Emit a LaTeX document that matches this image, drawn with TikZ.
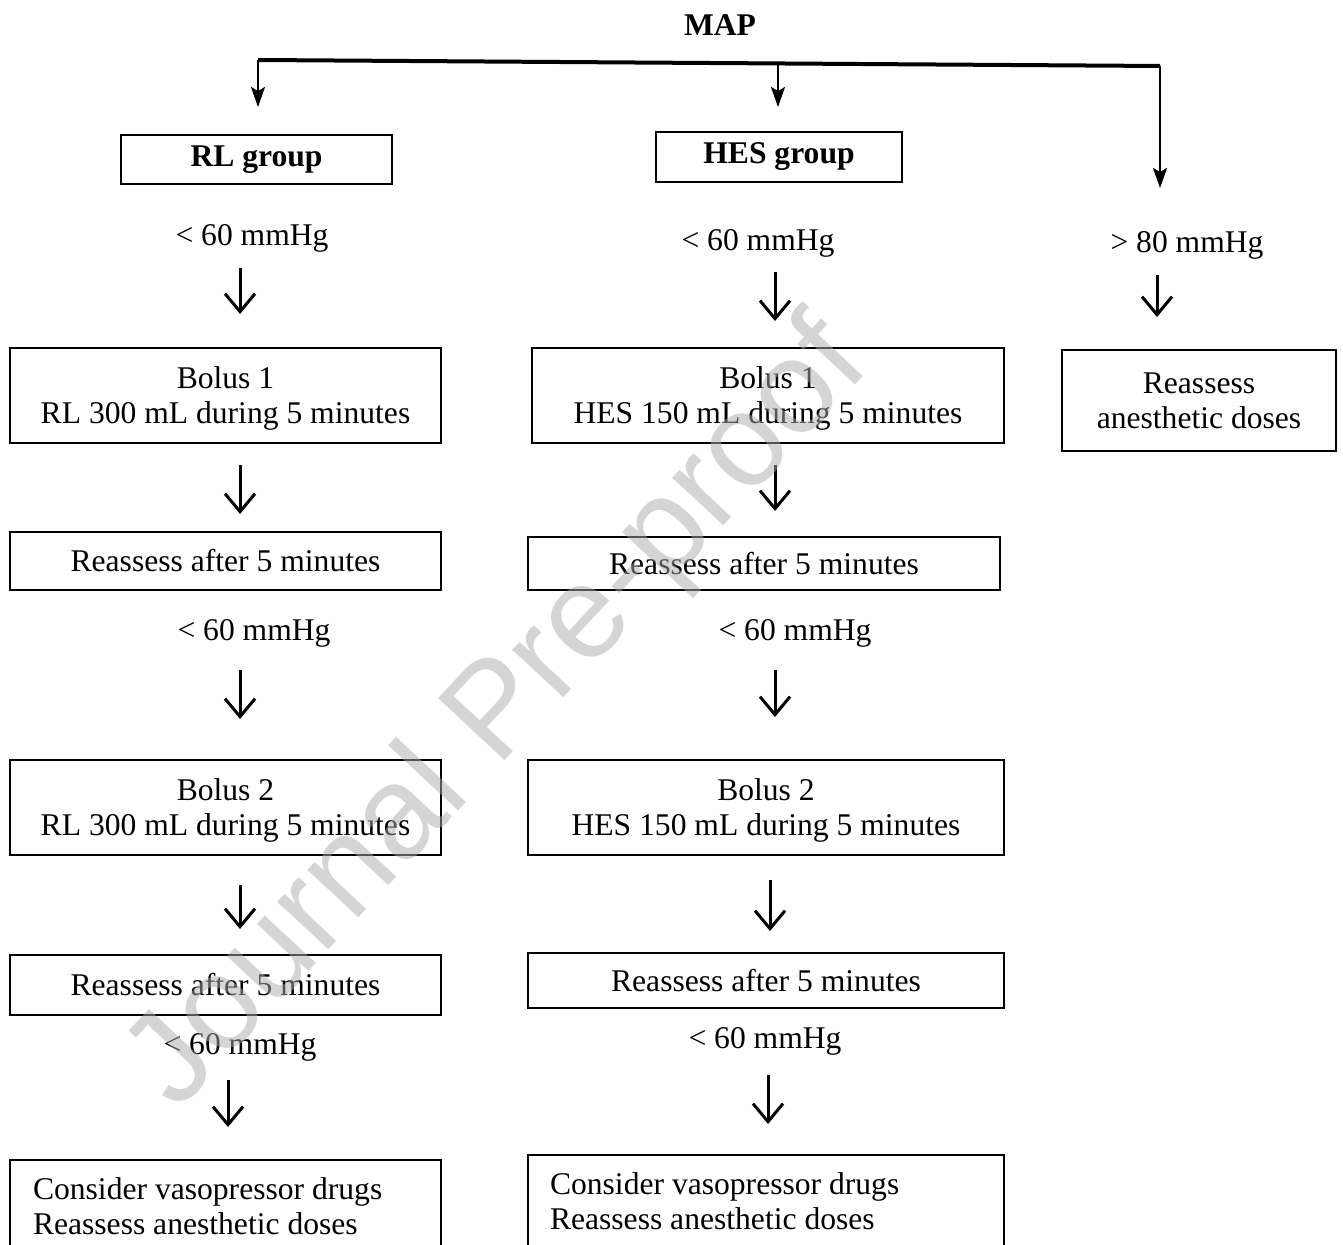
\documentclass[tikz,border=0pt]{standalone}
\usepackage{fontspec}
\setmainfont{Liberation Serif}
\newfontfamily\wmfont{Liberation Sans}
\usepackage{tikz}
\usetikzlibrary{arrows.meta}
\newcommand{\diafont}{\fontsize{15.8}{17.5}\selectfont}

\begin{document}
\begin{tikzpicture}[x=0.5pt, y=-0.5pt, font=\diafont,
      box/.style={draw, line width=1pt, inner sep=0pt, align=center},
      bolus/.style={box, text depth=0pt, minimum height=47.5pt},
      mmhg/.style={text depth=0pt},
      dnarrow/.style={-{Straight Barb[length=9pt, width=15pt]}, line width=1.5pt},
      brarrow/.style={-{Stealth[length=10pt, width=7pt, inset=2pt]}, line width=1pt}]
      \useasboundingbox (0,0) rectangle (1343,1245);

      % Top: MAP and the three branches
      \node[font=\diafont\bfseries] (map) at (720,25) {MAP};
      \coordinate (brl) at (258,60);
      \coordinate (brm) at (778,63.5);
      \coordinate (brr) at (1160,66);
      \coordinate (rt) at (1160,188);

      % Groups
      \node[box, font=\diafont\bfseries, minimum width=135.5pt, minimum height=24.5pt] (rl) at (256.5,159.5) {RL group};
      \node[box, font=\diafont\bfseries, minimum width=123pt, minimum height=25pt] (hes) at (779,157) {HES group};

      % RL column
      \node[mmhg] (rlo1) at (252,235) {< 60 mmHg};
      \node[bolus, minimum width=215.5pt] (rlb1) at (225.5,395.5) {Bolus 1\\RL 300 mL during 5 minutes};
      \node[box, minimum width=215.5pt, minimum height=29pt] (rlr1) at (225.5,561) {Reassess after 5 minutes};
      \node[mmhg] (rlo2) at (254,630) {< 60 mmHg};
      \node[bolus, minimum width=215.5pt] (rlb2) at (225.5,807.5) {Bolus 2\\RL 300 mL during 5 minutes};
      \node[box, minimum width=215.5pt, minimum height=30pt] (rlr2) at (225.5,985) {Reassess after 5 minutes};
      \node[mmhg] (rlo3) at (240,1044) {< 60 mmHg};
      \node[box, align=flush left, text width=192.5pt, inner xsep=11.5pt, minimum height=46pt] (rlc) at (225.5,1206) {Consider vasopressor drugs\\Reassess anesthetic doses};

      % HES column
      \node[mmhg] (heo1) at (758,240) {< 60 mmHg};
      \node[bolus, minimum width=236pt] (heb1) at (768,395.5) {Bolus 1\\HES 150 mL during 5 minutes};
      \node[box, minimum width=236pt, minimum height=26.5pt] (her1) at (764,563.5) {Reassess after 5 minutes};
      \node[mmhg] (heo2) at (795,630) {< 60 mmHg};
      \node[bolus, minimum width=238pt] (heb2) at (766,807.5) {Bolus 2\\HES 150 mL during 5 minutes};
      \node[box, minimum width=238pt, minimum height=27.5pt] (her2) at (766,980.5) {Reassess after 5 minutes};
      \node[mmhg] (heo3) at (765,1038) {< 60 mmHg};
      \node[box, align=flush left, text width=216pt, inner xsep=11pt, minimum height=46.5pt] (hec) at (766,1201.5) {Consider vasopressor drugs\\Reassess anesthetic doses};

      % High branch
      \node[mmhg] (hi) at (1187,242) {> 80 mmHg};
      \node[box, minimum width=137pt, minimum height=50.5pt] (ra) at (1199,400.5) {Reassess\\anesthetic doses};

      % Branch arrows
      \draw[line width=2pt] (brl) -- (brr);
      \draw[brarrow, shorten >=13.5pt] (brl) -- (brl |- rl.north);
      \draw[brarrow, shorten >=12pt] (brm) -- (brm |- hes.north);
      \draw[brarrow] (brr) -- (rt);

      % Down arrows, RL column
      \coordinate (rd1) at (240,268);
      \coordinate (rd2) at (240,465);
      \coordinate (rd3) at (240,670);
      \coordinate (rd4) at (240,885);
      \coordinate (rd5) at (228,1080);
      \draw[dnarrow, shorten >=16.5pt] (rd1) -- (rd1 |- rlb1.north);
      \draw[dnarrow, shorten >=8.5pt] (rd2) -- (rd2 |- rlr1.north);
      \draw[dnarrow, shorten >=20pt] (rd3) -- (rd3 |- rlb2.north);
      \draw[dnarrow, shorten >=12.5pt] (rd4) -- (rd4 |- rlr2.north);
      \draw[dnarrow, shorten >=16pt] (rd5) -- (rd5 |- rlc.north);

      % Down arrows, HES column
      \coordinate (hd1) at (775,272);
      \coordinate (hd2) at (775,465);
      \coordinate (hd3) at (775,670);
      \coordinate (hd4) at (770,880);
      \coordinate (hd5) at (768,1075);
      \draw[dnarrow, shorten >=13pt] (hd1) -- (hd1 |- heb1.north);
      \draw[dnarrow, shorten >=12.5pt] (hd2) -- (hd2 |- her1.north);
      \draw[dnarrow, shorten >=21pt] (hd3) -- (hd3 |- heb2.north);
      \draw[dnarrow, shorten >=10.5pt] (hd4) -- (hd4 |- her2.north);
      \draw[dnarrow, shorten >=15pt] (hd5) -- (hd5 |- hec.north);

      % Down arrow, high branch
      \coordinate (xd1) at (1157,275);
      \draw[dnarrow, shorten >=16pt] (xd1) -- (xd1 |- ra.north);

      % Watermark
      \node[rotate=47, font=\wmfont\fontsize{66}{66}\selectfont, text=black!33, text opacity=0.5] (wm) at (500,716) {Journal Pre-proof};
\end{tikzpicture}
\end{document}
